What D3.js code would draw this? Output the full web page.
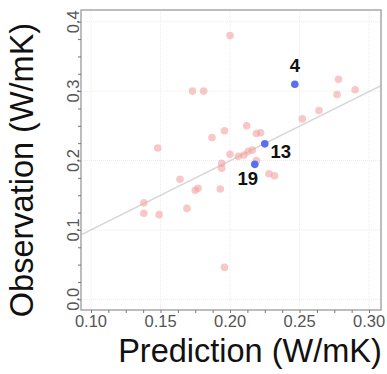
<!DOCTYPE html>
<html>
<head>
<meta charset="utf-8">
<script src="https://cdn.jsdelivr.net/npm/d3@7"></script>
<style>
  body { margin: 0; background: #fff; }
  svg { display: block; font-family: "Liberation Sans", Arial, sans-serif; }
</style>
</head>
<body>
<div id="chart"></div>
<script>
// data
const predicted = [0.200, 0.278, 0.277, 0.290, 0.173, 0.181, 0.264, 0.252, 0.212, 0.196,
  0.187, 0.219, 0.222, 0.148, 0.200, 0.206, 0.210, 0.213, 0.216, 0.219,
  0.194, 0.194, 0.228, 0.232, 0.164, 0.177, 0.175, 0.193, 0.138, 0.138,
  0.149, 0.169, 0.196];
const observed = [0.380, 0.317, 0.295, 0.302, 0.300, 0.300, 0.272, 0.260, 0.250, 0.243,
  0.233, 0.239, 0.240, 0.218, 0.209, 0.206, 0.208, 0.213, 0.215, 0.200,
  0.196, 0.189, 0.181, 0.178, 0.173, 0.160, 0.157, 0.159, 0.139, 0.124,
  0.122, 0.131, 0.046];

// highlighted samples
const highlightIds = ['4', '13', '19'];
const highlightPred = [0.2466, 0.225, 0.2178];
const highlightObs = [0.310, 0.224, 0.1945];

// fitted line
const fitSlope = 0.996;
const fitIntercept = 0.0005;

const xTicks = [0.10, 0.15, 0.20, 0.25, 0.30];
const yTicks = [0.0, 0.1, 0.2, 0.3, 0.4];

const width = 387, height = 374;
const margin = { left: 81, right: 381, top: 10, bottom: 310 };

const svg = d3.select('#chart').append('svg')
  .attr('width', width)
  .attr('height', height);

const x = d3.scaleLinear().domain([0.0928, 0.3086]).range([margin.left, margin.right]);
const y = d3.scaleLinear().domain([-0.0154, 0.4169]).range([margin.bottom, margin.top]);

// faint grid
svg.append('g').selectAll('line')
  .data(xTicks).enter().append('line')
  .attr('x1', d => x(d)).attr('x2', d => x(d))
  .attr('y1', margin.top).attr('y2', margin.bottom)
  .attr('stroke', '#ececec').attr('stroke-width', 1)
  .attr('stroke-dasharray', '1,1');
svg.append('g').selectAll('line')
  .data(yTicks).enter().append('line')
  .attr('x1', margin.left).attr('x2', margin.right)
  .attr('y1', d => y(d)).attr('y2', d => y(d))
  .attr('stroke', '#ececec').attr('stroke-width', 1)
  .attr('stroke-dasharray', '1,1');

// fit line, clipped to the panel
svg.append('clipPath').attr('id', 'clip')
  .append('rect').attr('x', margin.left).attr('y', margin.top)
  .attr('width', margin.right - margin.left).attr('height', margin.bottom - margin.top);
const xd = x.domain();
svg.append('line')
  .attr('clip-path', 'url(#clip)')
  .attr('x1', x(xd[0])).attr('y1', y(fitIntercept + fitSlope * xd[0]))
  .attr('x2', x(xd[1])).attr('y2', y(fitIntercept + fitSlope * xd[1]))
  .attr('stroke', '#d6d6d6').attr('stroke-width', 1.3);

// points
svg.append('g').selectAll('circle')
  .data(predicted).enter().append('circle')
  .attr('cx', d => x(d))
  .attr('cy', (d, i) => y(observed[i]))
  .attr('r', 3.8)
  .attr('fill', '#f4a4a4')
  .attr('fill-opacity', 0.6);

svg.append('g').selectAll('circle')
  .data(highlightPred).enter().append('circle')
  .attr('cx', d => x(d))
  .attr('cy', (d, i) => y(highlightObs[i]))
  .attr('r', 3.8)
  .attr('fill', '#5a6ef4');

// labels of the highlighted points
const labelDx = [0, 16, -7];
const labelDy = [-12, 14, 21];
svg.append('g').selectAll('text')
  .data(highlightIds).enter().append('text')
  .attr('x', (d, i) => x(highlightPred[i]) + labelDx[i])
  .attr('y', (d, i) => y(highlightObs[i]) + labelDy[i])
  .attr('text-anchor', 'middle')
  .attr('font-size', 18.5)
  .attr('font-weight', 'bold')
  .attr('fill', '#111')
  .text(d => d);

// panel border
svg.append('rect')
  .attr('x', margin.left).attr('y', margin.top)
  .attr('width', margin.right - margin.left).attr('height', margin.bottom - margin.top)
  .attr('fill', 'none').attr('stroke', '#a8a8a8').attr('stroke-width', 1.5);

// minor tick marks
const xMinor = d3.range(0, 17).map(i => 0.1 + i * 0.0125);
const yMinor = d3.range(0, 17).map(i => i * 0.025);
svg.append('g')
  .attr('transform', `translate(0,${margin.bottom})`)
  .call(d3.axisBottom(x).tickValues(xMinor).tickSize(3).tickFormat(''))
  .call(g => g.select('.domain').remove())
  .call(g => g.selectAll('line').attr('stroke', '#777'));
svg.append('g')
  .attr('transform', `translate(${margin.left},0)`)
  .call(d3.axisLeft(y).tickValues(yMinor).tickSize(3).tickFormat(''))
  .call(g => g.select('.domain').remove())
  .call(g => g.selectAll('line').attr('stroke', '#777'));

// tick labels
svg.append('g').selectAll('text')
  .data(xTicks).enter().append('text')
  .attr('x', d => x(d))
  .attr('y', 327)
  .attr('text-anchor', 'middle')
  .attr('font-size', 16.5)
  .attr('fill', '#555')
  .text(d => d3.format('.2f')(d));
svg.append('g').selectAll('text')
  .data(yTicks).enter().append('text')
  .attr('transform', d => `translate(79,${y(d)}) rotate(-90)`)
  .attr('text-anchor', 'middle')
  .attr('font-size', 16.5)
  .attr('fill', '#555')
  .text(d => d3.format('.1f')(d));

// axis titles
svg.append('text')
  .attr('x', 250).attr('y', 362)
  .attr('text-anchor', 'middle')
  .attr('font-size', 32.5)
  .attr('fill', '#111')
  .text('Prediction (W/mK)');
svg.append('text')
  .attr('transform', 'translate(33,170) rotate(-90)')
  .attr('text-anchor', 'middle')
  .attr('font-size', 32.5)
  .attr('fill', '#111')
  .text('Observation (W/mK)');
</script>
</body>
</html>
